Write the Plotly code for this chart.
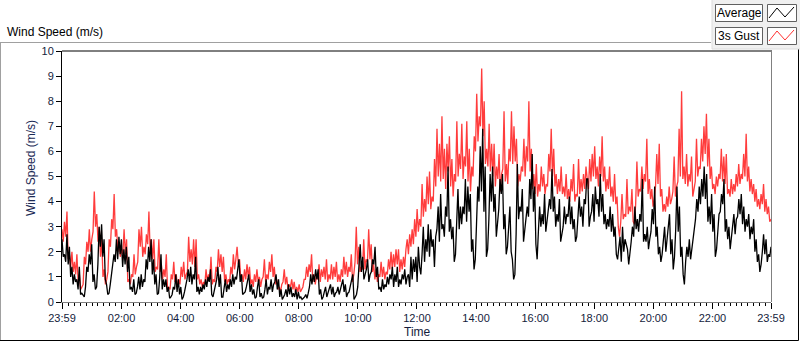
import numpy as np
import plotly.graph_objects as go

# ---- axis labels ----
tick_minutes = [0, 121, 241, 361, 481, 601, 721, 841, 961, 1081, 1201, 1321, 1440]
tick_labels = ["23:59", "02:00", "04:00", "06:00", "08:00", "10:00", "12:00",
               "14:00", "16:00", "18:00", "20:00", "22:00", "23:59"]

# ---- Average wind speed (m/s) (peaks and dips, ~2.5 min apart) ----
avg_night = [2.5, 1.8, 1.9, 1.6, 2.7, 1.5, 2.2, 1.0, 1.4, 0.7, 1.1, 0.8, 0.9, 0.5, 1.4, 0.3, 0.35, 0.25, 0.2, 0.6,
             1.4, 1.2, 1.9, 1.5, 2.3, 0.8, 1.1, 0.5, 0.6, 1.5, 3.0, 2.2, 3.1, 1.8, 2.5, 0.9, 0.7, 0.3, 0.35, 0.7,
             1.1, 1.3, 1.9, 1.6, 2.5, 1.7, 2.6, 1.9, 2.5, 1.4, 2.1, 1.5, 2.2, 1.2, 1.8, 0.5, 0.6, 0.4, 0.9, 0.3,
             0.35, 0.6, 1.0, 0.5, 1.1, 0.6, 0.9, 0.8, 1.7, 1.3, 2.2, 1.6, 2.5, 1.1, 1.7, 0.7, 1.1, 0.3, 0.35, 1.0,
             1.9, 0.5, 0.9, 0.6, 0.9, 0.4, 0.6, 0.15, 0.2, 0.3, 0.6, 0.5, 1.1, 0.4, 0.9, 0.3, 0.6, 0.1, 0.2, 0.4,
             0.6, 0.9, 1.3, 0.8, 1.4, 0.7, 1.1, 0.9, 1.8, 0.4, 0.6, 0.3, 0.6, 0.4, 0.7, 0.5, 0.9, 0.6, 1.0, 0.8,
             1.3, 0.3, 0.2, 0.4, 0.7, 0.9, 1.4, 0.6, 1.1, 0.2, 0.2, 0.5, 0.9, 0.4, 0.7, 0.5, 0.9, 0.6, 1.1, 0.7,
             1.0, 0.9, 1.4]
avg_morning = [1.7, 0.8, 1.1, 0.3, 0.35, 0.4, 0.6, 0.9, 1.1, 0.4, 0.7, 0.3, 0.5, 0.15, 0.2, 0.6, 0.9, 0.2, 0.35, 0.15,
               0.2, 0.5, 0.9, 0.3, 0.6, 0.5, 0.9, 0.4, 0.7, 0.8, 1.1, 0.5, 0.9, 0.2, 0.5, 0.1, 0.2, 0.3, 0.5, 0.2,
               0.7, 0.3, 0.6, 0.2, 0.35, 0.2, 0.5, 0.1, 0.4, 0.15, 0.2, 0.1, 0.15, 0.2, 0.3, 0.15, 0.35, 0.6, 1.1, 0.7,
               1.1, 0.8, 1.3, 0.9, 1.3, 0.3, 0.5, 0.1, 0.2, 0.4, 0.6, 0.2, 0.35, 0.5, 0.7, 0.3, 0.6, 0.2, 0.35, 0.4,
               0.6, 0.3, 0.5, 0.7, 0.9, 0.4, 0.7, 0.2, 0.35, 0.4, 0.6, 0.8, 1.1, 0.1, 0.2, 0.3, 0.6, 1.5, 2.3, 1.2,
               1.8, 0.9, 1.1, 1.3, 1.7, 0.8, 1.1, 1.2, 1.7, 1.5, 2.2, 1.0, 1.4, 0.5, 0.6, 0.4, 0.9, 0.5, 0.7, 0.6,
               1.0, 0.7, 1.1, 0.9, 1.4, 0.6, 1.1, 0.8, 1.4, 0.6, 0.9, 0.7, 1.1, 0.9, 1.3, 0.7, 1.0]
avg_afternoon = [1.1, 0.6, 1.8, 0.9, 1.7, 1.2, 1.8, 0.8, 2.2, 1.4, 1.1, 1.9, 3.0, 1.6, 2.5, 2.0, 3.1, 1.8, 2.9, 2.2,
                 2.5, 1.4, 2.6, 2.9, 3.8, 2.4, 4.3, 2.9, 3.1, 2.6, 3.8, 3.4, 5.4, 2.8, 3.3, 2.5, 3.0, 1.6, 1.9, 3.2,
                 4.5, 2.9, 3.8, 3.1, 3.8, 3.5, 4.9, 3.2, 4.6, 3.6, 4.3, 2.0, 2.5, 1.3, 1.7, 3.1, 4.6, 4.0, 6.2, 4.4,
                 6.9, 3.6, 5.4, 1.8, 2.1, 3.3, 5.1, 4.0, 5.4, 3.6, 4.3, 2.6, 3.1, 3.7, 4.9, 4.3, 5.1, 2.9, 3.5, 1.9,
                 2.2, 3.0, 3.8, 2.0, 1.7, 0.9, 1.1, 2.7, 5.5, 3.3, 3.8, 3.6, 4.5, 2.4, 2.9, 3.2, 3.8, 3.4, 4.9, 4.1,
                 5.9, 3.6, 4.6, 2.3, 1.7, 2.8, 3.8, 3.0, 3.5, 3.1, 4.3, 2.8, 3.3, 3.5, 4.1, 3.7, 5.3, 3.6, 4.2, 3.0,
                 3.5, 3.2, 4.1, 2.4, 2.7, 3.0, 3.8, 3.1, 3.5, 3.4, 4.2, 3.1, 3.8, 2.9, 3.3, 2.4, 2.6, 3.3, 4.2, 3.4,
                 3.8, 3.0, 4.1, 3.9, 4.9]
avg_evening = [4.9, 3.0, 3.4, 3.6, 4.3, 3.2, 4.6, 3.9, 4.1, 3.4, 5.1, 3.6, 4.3, 3.1, 3.5, 2.9, 3.3, 3.0, 3.8, 2.8,
               3.5, 2.6, 3.0, 1.9, 1.7, 2.2, 2.6, 1.6, 3.0, 2.0, 2.5, 2.3, 2.1, 1.5, 1.9, 2.4, 3.0, 2.6, 3.8, 2.9,
               3.3, 2.8, 3.5, 3.2, 4.9, 2.4, 2.7, 2.4, 3.0, 2.1, 2.5, 2.8, 3.7, 3.1, 4.6, 2.6, 3.0, 1.9, 2.2, 1.6,
               1.9, 2.4, 3.0, 2.0, 2.5, 2.7, 3.5, 1.9, 2.5, 1.3, 1.8, 2.9, 4.6, 2.8, 3.8, 1.8, 2.2, 1.1, 0.7, 1.6,
               2.2, 1.8, 2.5, 1.7, 2.1, 2.4, 3.0, 3.3, 4.1, 3.6, 4.6, 3.9, 4.9, 4.2, 5.4, 4.1, 5.1, 3.2, 3.8, 3.1,
               4.3, 2.8, 3.5, 1.8, 2.1, 2.8, 3.5, 3.6, 4.3, 3.9, 4.9, 2.8, 3.3, 2.5, 3.0, 2.1, 2.5, 2.9, 3.5, 2.7,
               3.3, 3.4, 4.1, 3.5, 4.3, 3.1, 3.8, 2.8, 3.3, 3.0, 3.5, 2.5, 3.0, 2.7, 3.3, 2.0, 2.5, 1.6, 1.9, 1.2,
               1.5, 2.0, 2.7, 1.9, 2.5, 1.6, 1.9, 1.8, 2.2]

# ---- 3 s gust (m/s) ----
gust_night = [2.9, 2.4, 3.2, 2.6, 3.6, 1.7, 1.9, 1.4, 2.0, 1.2, 1.6, 1.1, 1.9, 0.8, 1.1, 0.5, 0.6, 0.7, 1.8, 1.5,
              2.4, 2.0, 2.9, 2.0, 2.5, 2.8, 4.4, 3.0, 3.5, 2.4, 3.0, 1.8, 2.5, 1.0, 1.3, 0.7, 0.9, 1.2, 2.5, 2.2,
              3.3, 2.9, 4.3, 2.6, 2.9, 2.0, 2.4, 1.8, 2.1, 1.9, 2.9, 1.9, 2.5, 0.8, 0.9, 0.7, 1.1, 1.0, 1.9, 1.1,
              1.4, 1.6, 2.9, 2.2, 3.0, 1.8, 2.2, 1.9, 2.7, 2.3, 3.6, 2.0, 2.5, 1.7, 2.5, 1.2, 1.4, 1.3, 2.5, 1.2,
              1.5, 0.9, 1.3, 1.0, 1.9, 0.5, 0.6, 0.5, 1.1, 0.9, 1.6, 0.8, 1.1, 0.6, 0.9, 0.7, 1.4, 1.0, 1.6, 0.9,
              1.1, 1.2, 2.6, 1.6, 2.1, 1.5, 2.5, 1.4, 2.5, 0.9, 1.1, 0.7, 0.9, 0.6, 0.8, 0.7, 1.3, 0.8, 1.1, 0.9,
              1.8, 0.7, 0.9, 0.8, 1.4, 1.2, 2.1, 1.4, 1.9, 1.2, 1.8, 0.8, 1.1, 0.7, 0.9, 0.8, 1.4, 1.1, 1.9, 1.3,
              1.7]
gust_morning = [2.2, 1.5, 1.7, 0.9, 1.1, 0.8, 1.3, 0.9, 1.5, 1.0, 1.4, 0.7, 0.9, 0.6, 1.1, 0.8, 1.3, 0.8, 1.0, 0.6,
                0.9, 1.0, 1.7, 0.8, 1.1, 0.9, 1.6, 1.2, 1.9, 1.0, 1.4, 0.7, 0.9, 0.5, 0.6, 0.4, 0.7, 0.8, 1.3, 0.7,
                1.0, 0.5, 0.7, 0.6, 0.9, 0.5, 0.8, 0.4, 0.6, 0.4, 0.7, 0.4, 0.5, 0.6, 0.9, 0.9, 1.4, 1.0, 1.5, 1.2,
                1.9, 0.8, 1.1, 0.7, 1.1, 0.9, 1.5, 0.8, 1.3, 1.0, 1.4, 0.9, 1.7, 0.8, 1.1, 0.9, 1.5, 0.9, 1.4, 1.0,
                1.6, 0.8, 1.1, 0.8, 1.3, 1.0, 1.8, 1.1, 1.6, 1.0, 1.4, 1.2, 1.9, 0.8, 1.1, 1.6, 3.0, 1.5, 2.2, 1.2,
                1.4, 1.3, 2.5, 1.3, 1.7, 1.6, 2.9, 1.7, 2.3, 1.2, 1.5, 0.9, 1.3, 0.8, 1.1, 1.0, 1.6, 1.0, 1.4, 0.9,
                1.2, 1.1, 1.7, 1.3, 2.0, 1.3, 1.9, 1.4, 2.1, 1.5, 2.1, 1.2, 1.7, 1.3, 1.8, 1.4, 2.1]
gust_afternoon = [2.5, 1.9, 2.7, 2.2, 2.9, 2.3, 3.3, 2.6, 3.7, 2.8, 3.3, 3.0, 4.7, 3.4, 4.1, 3.6, 5.0, 3.9, 5.2, 3.7,
                  4.2, 4.0, 5.7, 4.6, 6.9, 5.0, 6.3, 4.8, 7.4, 4.9, 6.1, 4.5, 6.3, 5.2, 6.6, 4.6, 5.7, 4.2, 5.1, 4.8,
                  7.2, 5.0, 5.9, 5.3, 7.1, 4.9, 5.8, 5.4, 7.2, 4.8, 6.1, 4.4, 5.4, 5.0, 6.6, 6.0, 8.3, 6.4, 7.4, 7.0,
                  9.3, 6.6, 8.0, 5.5, 6.1, 5.4, 7.1, 5.2, 6.3, 5.0, 6.3, 4.6, 5.4, 4.9, 5.9, 4.4, 5.1, 5.3, 7.6, 4.8,
                  5.5, 4.7, 6.1, 5.6, 7.6, 5.5, 7.0, 5.6, 6.5, 4.6, 5.1, 4.8, 5.4, 5.2, 6.5, 5.0, 6.2, 5.6, 8.0, 5.2,
                  6.1, 4.5, 5.1, 4.3, 5.5, 4.2, 4.7, 4.4, 5.4, 4.6, 5.1, 4.3, 4.7, 4.6, 5.9, 5.2, 6.9, 5.0, 6.1, 4.6,
                  5.1, 4.3, 4.9, 4.4, 5.4, 4.3, 4.6, 4.2, 5.1, 4.1, 4.5, 4.0, 4.9, 4.4, 5.5, 4.0, 4.3, 4.2, 5.7, 4.3,
                  4.9, 4.4, 5.1, 4.5, 5.4]
gust_evening = [4.9, 4.5, 5.7, 4.8, 5.9, 5.0, 6.2, 4.9, 5.4, 4.6, 5.8, 5.0, 6.6, 4.8, 5.4, 4.4, 4.9, 4.5, 5.4, 4.2,
                4.6, 4.0, 5.1, 3.9, 4.2, 3.0, 2.6, 3.2, 4.3, 3.3, 3.5, 3.4, 4.9, 3.5, 3.8, 3.6, 4.5, 3.2, 3.1, 3.9,
                5.6, 4.2, 4.5, 4.4, 5.4, 4.5, 5.1, 4.8, 6.5, 4.3, 4.9, 4.1, 4.5, 3.8, 4.1, 4.6, 5.9, 4.7, 6.3, 4.2,
                4.5, 3.6, 3.9, 3.6, 4.2, 3.8, 4.6, 3.9, 4.1, 4.4, 5.8, 4.2, 4.6, 4.8, 6.9, 5.0, 8.4, 4.9, 5.4, 4.7,
                5.9, 4.6, 5.1, 4.8, 5.8, 4.2, 4.5, 4.8, 6.5, 5.0, 5.4, 5.3, 6.5, 5.6, 7.0, 5.9, 7.5, 5.4, 6.5, 4.9,
                5.4, 4.5, 4.7, 4.3, 5.0, 4.6, 5.1, 4.9, 6.1, 4.8, 5.8, 4.7, 5.9, 4.3, 4.5, 4.2, 4.9, 4.3, 4.7, 4.4,
                5.1, 4.6, 5.5, 4.7, 5.1, 4.9, 5.9, 5.0, 6.7, 4.8, 5.4, 4.4, 4.9, 4.3, 4.7, 4.0, 4.5, 3.8, 4.1, 3.7,
                4.3, 3.9, 4.7, 3.6, 4.1, 3.5, 3.8, 3.2, 3.3]

avg = avg_night + avg_morning + avg_afternoon + avg_evening
gust = gust_night + gust_morning + gust_afternoon + gust_evening
t_avg = np.linspace(0, 1440, len(avg))      # minutes since 23:59
t_gust = np.linspace(0, 1440, len(gust))

# ---- layout geometry (pixels) ----
W, H = 800, 342
L, R, T, B = 62, 771, 51, 302


def px(x):
    return (x - L) / (R - L)


def py(y):
    return (B - y) / (B - T)


TXT = "#141c3c"
FONT = "Liberation Sans"

fig = go.Figure()
fig.add_trace(go.Scatter(x=t_gust, y=gust, mode="lines", name="3s Gust",
                         line=dict(color="#ff3c3c", width=1.3), hoverinfo="skip"))
fig.add_trace(go.Scatter(x=t_avg, y=avg, mode="lines", name="Average",
                         line=dict(color="#000000", width=1.3), hoverinfo="skip"))

shapes = []


def line(x0, y0, x1, y1, color, width=1):
    shapes.append(dict(type="line", xref="paper", yref="paper",
                       x0=px(x0), y0=py(y0), x1=px(x1), y1=py(y1),
                       line=dict(color=color, width=width)))


def rect(x0, y0, x1, y1, fill, color, width=1):
    shapes.append(dict(type="rect", xref="paper", yref="paper",
                       x0=px(x0), y0=py(y0), x1=px(x1), y1=py(y1),
                       fillcolor=fill, line=dict(color=color, width=width),
                       layer="above"))


# outer frame
line(0, 42.5, 711, 42.5, "#a0a0a0")
line(0.5, 42.5, 0.5, 340.5, "#a0a0a0")
line(0, 340.5, 798.5, 340.5, "#000000")
line(798.5, 49, 798.5, 340.5, "#000000")
# legend panel
rect(712, -1, 801, 49, "#f0f0f0", "#dcdcdc")
# plot box top / right
line(L, T, R + 1, T, "#000000")
line(R + 0.5, T, R + 0.5, B, "#808080")

annotations = []
for i, (name, col) in enumerate([("Average", "#000000"), ("3s Gust", "#ff3030")]):
    dy = 23 * i
    rect(715.5, 4.5 + dy, 762.5, 21.5 + dy, "#ffffff", "#606060")
    rect(767.5, 4.5 + dy, 796.5, 21.5 + dy, "#ffffff", "#606060")
    pts = [(769, 18 + dy), (777, 8 + dy), (785, 17 + dy), (794, 7 + dy)]
    path = "M " + " L ".join(f"{px(x)},{py(y)}" for x, y in pts)
    shapes.append(dict(type="path", xref="paper", yref="paper", path=path,
                       line=dict(color=col, width=1), layer="above"))
    annotations.append(dict(text=name, x=px(739), y=py(13 + dy), xref="paper",
                            yref="paper", showarrow=False, xanchor="center",
                            yanchor="middle",
                            font=dict(family=FONT, size=12, color="#000000")))

annotations += [
    dict(text="Wind Speed (m/s)", x=px(5), y=py(32), xref="paper", yref="paper",
         showarrow=False, xanchor="left", yanchor="middle",
         font=dict(family=FONT, size=12, color="#000000")),
    dict(text="Wind Speed (m/s)", x=px(31), y=py(168), xref="paper", yref="paper",
         showarrow=False, xanchor="center", yanchor="middle", textangle=-90,
         font=dict(family=FONT, size=12, color="#1b2a55")),
    dict(text="Time", x=px(417), y=py(332), xref="paper", yref="paper",
         showarrow=False, xanchor="center", yanchor="middle",
         font=dict(family=FONT, size=12, color=TXT)),
]

fig.update_layout(
    width=W, height=H,
    margin=dict(l=L, r=W - R, t=T, b=H - B, pad=0, autoexpand=False),
    paper_bgcolor="#ffffff", plot_bgcolor="#ffffff",
    showlegend=False,
    shapes=shapes, annotations=annotations,
    xaxis=dict(range=[0, 1440], tickmode="array", tickvals=tick_minutes,
               ticktext=tick_labels, ticks="outside", ticklen=6, tickwidth=1,
               tickcolor="#000000", showline=True, linecolor="#808080",
               linewidth=1, showgrid=False, zeroline=False,
               tickfont=dict(family=FONT, size=11, color=TXT),
               minor=dict(tickmode="linear", tick0=1, dtick=12, ticks="outside",
                          ticklen=3, tickwidth=1, tickcolor="#000000",
                          showgrid=False)),
    yaxis=dict(range=[0, 10], tickmode="linear", tick0=0, dtick=1,
               ticks="outside", ticklen=5, tickwidth=1, tickcolor="#000000",
               showline=True, linecolor="#000000", linewidth=1,
               showgrid=False, zeroline=False,
               tickfont=dict(family=FONT, size=11, color=TXT)),
)

fig.write_html("out.html", config={"displayModeBar": False},
               post_script="document.body.style.margin='0px';document.body.style.padding='0px';")
